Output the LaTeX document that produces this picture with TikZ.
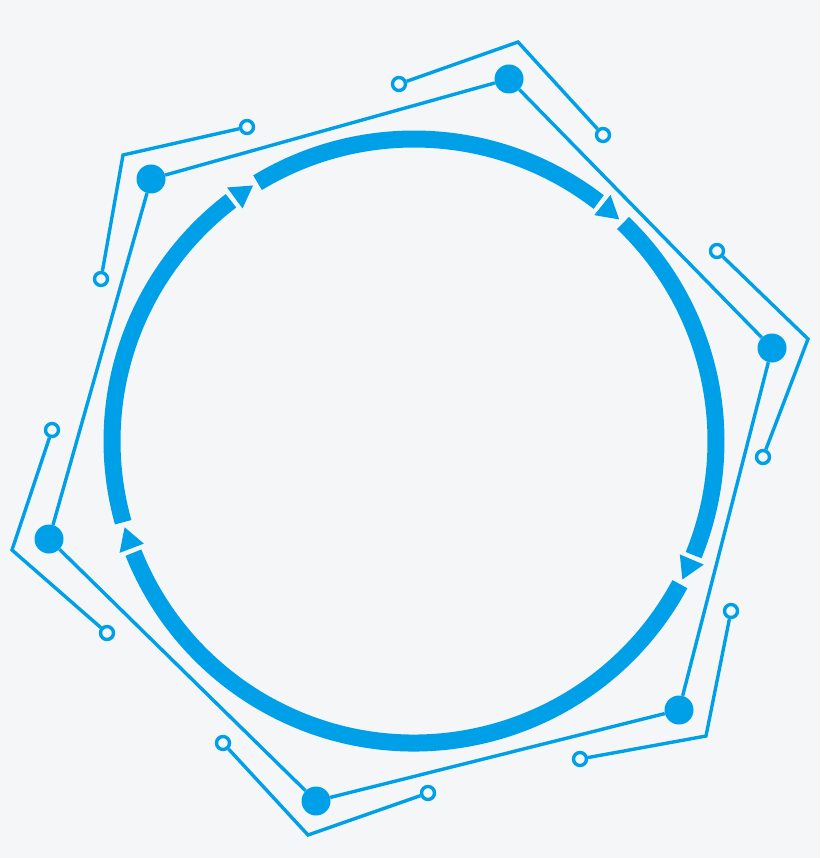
\documentclass[tikz,border=0pt]{standalone}
\usepackage{tikz}
\usetikzlibrary{graphs}
\definecolor{cblue}{RGB}{0,160,233}
\definecolor{bgc}{RGB}{245,246,247}

\begin{document}
\begin{tikzpicture}[x=1pt,y=-1pt,
        dot/.style={circle,fill=cblue,inner sep=0pt,minimum size=29pt},
        pin/.style={circle,draw=cblue,fill=bgc,line width=3.4pt,inner sep=0pt,minimum size=13pt},
        wire/.style={cblue,line width=3.4pt},
        ring/.style={cblue,line width=17pt}]
    \fill[bgc] (0,0) rectangle (820,858);
    \useasboundingbox (0,0) rectangle (820,858);
    % ring with arrows
    \begin{scope}[shift={(414,441)}]
        \foreach \a/\b in {24.5/160.6, 160.6/235, 235/310, 310/384.5}{
            \draw[ring] ({\a+3.8}:302) arc[start angle=\a+3.8, end angle=\b-2.3, radius=302];
            \fill[cblue] ({\a-1.4}:289) -- ({\a-1.4}:315) -- ({\a+2.8}:302) -- cycle;
        }
    \end{scope}
    % dots
    \node[dot] (d1) at (151,179) {};
    \node[dot] (d2) at (509,79) {};
    \node[dot] (d3) at (772,348) {};
    \node[dot] (d4) at (679,710) {};
    \node[dot] (d5) at (316,801) {};
    \node[dot] (d6) at (49,539) {};
    % pins
    \node[pin] (p1) at (247,127) {};
    \node[pin] (p2) at (399,84) {};
    \node[pin] (p3) at (603,135) {};
    \node[pin] (p4) at (717,251) {};
    \node[pin] (p5) at (763,457) {};
    \node[pin] (p6) at (731,611) {};
    \node[pin] (p7) at (580,759) {};
    \node[pin] (p8) at (428,793) {};
    \node[pin] (p9) at (223,743) {};
    \node[pin] (p10) at (107,633) {};
    \node[pin] (p11) at (52,430) {};
    \node[pin] (p12) at (101,279) {};
    % corners
    \coordinate (k1) at (123,155);
    \coordinate (k2) at (518,42);
    \coordinate (k3) at (808,339);
    \coordinate (k4) at (706,736);
    \coordinate (k5) at (308,835);
    \coordinate (k6) at (12,550);
    \graph[use existing nodes, edges=wire]{
        d1 -- d2 -- d3 -- d4 -- d5 -- d6 -- d1;
    };
    \foreach \s/\k/\e in {p1/k1/p12, p2/k2/p3, p4/k3/p5, p6/k4/p7, p8/k5/p9, p10/k6/p11}
        \draw[wire] (\s) -- (\k) -- (\e);
\end{tikzpicture}
\end{document}
